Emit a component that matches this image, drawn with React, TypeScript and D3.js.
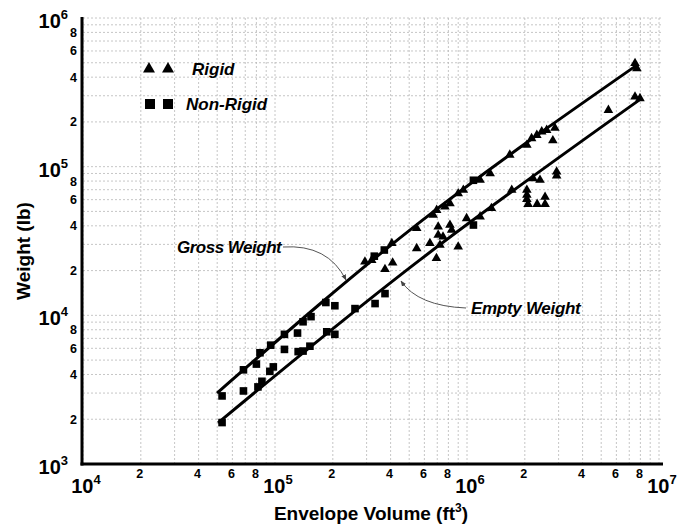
import React from 'react';
import * as d3 from 'd3';

// envelope volume (ft3), weight (lb)
const rigidPoints: [number, number][] = [
  [2.94e5, 2.29e4], [3.19e5, 2.35e4], [4.06e5, 3.05e4], [5.47e5, 3.85e4], [6.67e5, 4.73e4],
  [6.95e5, 5.1e4], [7.67e5, 5.37e4], [8.15e5, 5.66e4], [9.0e5, 6.6e4], [9.57e5, 6.96e4],
  [1.17e6, 8.13e4], [1.32e6, 9.0e4], [1.67e6, 1.2e5], [2.05e6, 1.4e5], [2.17e6, 1.55e5],
  [2.31e6, 1.63e5], [2.45e6, 1.72e5], [2.6e6, 1.76e5], [2.87e6, 1.82e5], [2.8e6, 1.5e5],
  [5.45e6, 2.4e5], [7.5e6, 4.96e5], [7.67e6, 4.58e5], [7.5e6, 2.95e5], [7.96e6, 2.88e5],
  [3.74e5, 2.04e4], [4.1e5, 2.26e4], [5.47e5, 2.82e4], [6.41e5, 3.05e4], [6.93e5, 2.42e4],
  [7.08e5, 3.94e4], [7.08e5, 3.47e4], [7.5e5, 3.38e4], [7.23e5, 2.97e4], [8.15e5, 4.05e4],
  [8.32e5, 3.75e4], [9.0e5, 2.89e4], [9.95e5, 4.49e4], [1.17e6, 4.6e4], [1.34e6, 5.25e4],
  [1.71e6, 6.97e4], [2.21e6, 8.34e4], [2.4e6, 8.13e4], [2.93e6, 9.25e4], [2.93e6, 8.7e4],
  [2.05e6, 6.96e4], [2.05e6, 6.45e4], [2.05e6, 6.05e4], [2.08e6, 5.6e4], [2.32e6, 5.6e4],
  [2.55e6, 6.25e4], [2.55e6, 5.6e4],
];

const nonRigidPoints: [number, number][] = [
  [5.3e4, 2.87e3], [6.85e4, 4.3e3], [8.0e4, 4.7e3], [8.35e4, 5.6e3], [9.5e4, 6.3e3],
  [1.12e5, 7.45e3], [1.31e5, 7.6e3], [1.4e5, 9.05e3], [1.54e5, 9.8e3], [1.84e5, 1.22e4],
  [2.05e5, 1.16e4], [3.29e5, 2.5e4], [3.71e5, 2.75e4], [1.08e6, 8.1e4],
  [5.3e4, 1.9e3], [6.85e4, 3.1e3], [8.15e4, 3.3e3], [8.55e4, 3.6e3], [9.4e4, 4.2e3],
  [9.8e4, 4.5e3], [1.12e5, 5.9e3], [1.32e5, 5.7e3], [1.4e5, 5.75e3], [1.52e5, 6.2e3],
  [1.86e5, 7.75e3], [2.05e5, 7.45e3], [2.61e5, 1.11e4], [3.32e5, 1.2e4], [3.74e5, 1.4e4],
  [1.08e6, 4.05e4],
];

const grossLine: [number, number][] = [[4.99e4, 3.0e3], [5.69e5, 4.24e4], [7.67e6, 4.82e5]];
const emptyLine: [number, number][] = [[5.05e4, 1.89e3], [5.69e5, 2.36e4], [8.15e6, 2.89e5]];

const xDecades = [1e4, 1e5, 1e6, 1e7];
const yDecades = [1e3, 1e4, 1e5, 1e6];
const minorLabels = [2, 4, 6, 8];

const font = "'Liberation Sans', Arial, sans-serif";

export default function App() {
  const x = d3.scaleLog().domain([1e4, 1e7]).range([83, 659]);
  const y = d3.scaleLog().domain([1e3, 1e6]).range([464, 18]);

  const gridX: number[] = [];
  xDecades.slice(0, 3).forEach(d => { for (let k = 1; k < 10; k++) gridX.push(d * k); });
  gridX.push(1e7);
  const gridY: number[] = [];
  yDecades.slice(0, 3).forEach(d => { for (let k = 1; k < 10; k++) gridY.push(d * k); });
  gridY.push(1e6);

  const line = d3.line<[number, number]>().x(d => x(d[0])).y(d => y(d[1])).curve(d3.curveNatural);
  const tri = d3.symbol(d3.symbolTriangle, 40)()!;
  const triBig = d3.symbol(d3.symbolTriangle, 62)()!;

  return (
    <div style={{ position: 'absolute', left: 0, top: 0 }}>
      <svg width={678} height={527} style={{ background: '#fff', display: 'block' }}>
        {/* grid */}
        <g stroke="#b8b8b8" strokeWidth={0.8} strokeDasharray="2,2">
          {gridX.map((v, i) => <line key={'gx' + i} x1={x(v)} x2={x(v)} y1={18} y2={464} />)}
          {gridY.map((v, i) => <line key={'gy' + i} x1={83} x2={663} y1={y(v)} y2={y(v)} />)}
        </g>

        {/* fit lines */}
        <path d={line(grossLine)!} fill="none" stroke="#000" strokeWidth={3} />
        <path d={line(emptyLine)!} fill="none" stroke="#000" strokeWidth={3} />

        {/* points */}
        {nonRigidPoints.map((p, i) => (
          <rect key={'s' + i} x={x(p[0]) - 3.8} y={y(p[1]) - 3.8} width={7.6} height={7.6} fill="#000" />
        ))}
        {rigidPoints.map((p, i) => (
          <path key={'t' + i} d={tri} transform={`translate(${x(p[0])},${y(p[1])})`} fill="#000" />
        ))}

        {/* axes */}
        <line x1={82} x2={82} y1={17} y2={465.5} stroke="#000" strokeWidth={3} />
        <line x1={80.5} x2={663} y1={464} y2={464} stroke="#000" strokeWidth={3} />

        {/* tick labels */}
        <g fontFamily={font} fontWeight="bold" fill="#000">
          {yDecades.map(d => (
            <text key={'yd' + d} x={68} y={y(d) + 10} fontSize={20} textAnchor="end">
              10<tspan fontSize={13} dy={-9}>{Math.log10(d)}</tspan>
            </text>
          ))}
          {yDecades.slice(0, 3).map(d => minorLabels.map(k => (
            <text key={'ym' + d * k} x={77} y={y(d * k) + 4.5} fontSize={12.5} textAnchor="end">{k}</text>
          )))}
          {xDecades.map(d => (
            <text key={'xd' + d} x={x(d) + 3} y={493} fontSize={20} textAnchor="middle">
              10<tspan fontSize={13} dy={-9}>{Math.log10(d)}</tspan>
            </text>
          ))}
          {xDecades.slice(0, 3).map(d => minorLabels.map(k => (
            <text key={'xm' + d * k} x={x(d * k) - 1} y={478} fontSize={12.5} textAnchor="middle">{k}</text>
          )))}
          <text x={371} y={520} fontSize={19} textAnchor="middle">
            Envelope Volume (ft<tspan fontSize={12} dy={-8}>3</tspan><tspan dy={8}>)</tspan>
          </text>
          <text transform="translate(30,251) rotate(-90)" fontSize={19} textAnchor="middle">Weight (lb)</text>
        </g>

        {/* legend */}
        <g fill="#000">
          <path d={triBig} transform="translate(149,69)" />
          <path d={triBig} transform="translate(168,69)" />
          <rect x={145} y={99} width={10} height={10} />
          <rect x={163} y={99} width={10} height={10} />
        </g>
        <g fontFamily={font} fontWeight="bold" fontStyle="italic" fontSize={17} fill="#000">
          <text x={192} y={75}>Rigid</text>
          <text x={186} y={110}>Non-Rigid</text>
          <text x={177} y={253} letterSpacing={-0.5}>Gross Weight</text>
          <text x={471} y={314} letterSpacing={-0.3}>Empty Weight</text>
        </g>

        {/* annotation arrows */}
        <defs>
          <marker id="ah" viewBox="0 0 10 10" refX={9} refY={5} markerWidth={6} markerHeight={6} orient="auto">
            <path d="M0,1 L10,5 L0,9 Z" fill="#444" />
          </marker>
        </defs>
        <path d="M283,247 Q328,244 346,280" fill="none" stroke="#555" strokeWidth={1} markerEnd="url(#ah)" />
        <path d="M466,308 Q418,306 401,281" fill="none" stroke="#555" strokeWidth={1} markerEnd="url(#ah)" />
      </svg>
    </div>
  );
}
